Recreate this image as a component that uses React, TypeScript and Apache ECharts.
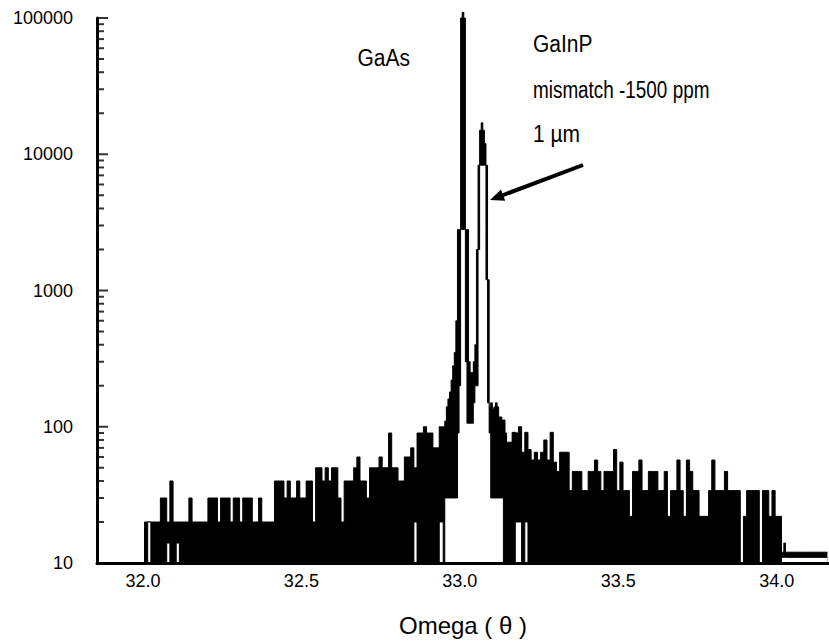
import React, { useEffect, useRef } from 'react';
import * as echarts from 'echarts';

// ---- data ----
// left wing, 32.00 - 32.94 (step 0.01)
const omegaLeft = [
  32.00, 32.01, 32.02, 32.03, 32.04, 32.05, 32.06, 32.07, 32.08, 32.09,
  32.10, 32.11, 32.12, 32.13, 32.14, 32.15, 32.16, 32.17, 32.18, 32.19,
  32.20, 32.21, 32.22, 32.23, 32.24, 32.25, 32.26, 32.27, 32.28, 32.29,
  32.30, 32.31, 32.32, 32.33, 32.34, 32.35, 32.36, 32.37, 32.38, 32.39,
  32.40, 32.41, 32.42, 32.43, 32.44, 32.45, 32.46, 32.47, 32.48, 32.49,
  32.50, 32.51, 32.52, 32.53, 32.54, 32.55, 32.56, 32.57, 32.58, 32.59,
  32.60, 32.61, 32.62, 32.63, 32.64, 32.65, 32.66, 32.67, 32.68, 32.69,
  32.70, 32.71, 32.72, 32.73, 32.74, 32.75, 32.76, 32.77, 32.78, 32.79,
  32.80, 32.81, 32.82, 32.83, 32.84, 32.85, 32.86, 32.87, 32.88, 32.89,
  32.90, 32.91, 32.92, 32.93, 32.94,
];
const upperLeft = [
  10, 20, 20, 20, 20, 20, 30, 30, 20, 40,
  20, 20, 20, 20, 20, 30, 20, 20, 20, 20,
  20, 30, 30, 30, 20, 30, 30, 30, 20, 30,
  30, 20, 30, 30, 30, 20, 20, 30, 20, 20,
  20, 20, 40, 40, 40, 30, 40, 30, 30, 40,
  30, 30, 40, 40, 20, 50, 50, 40, 50, 40,
  50, 50, 30, 20, 40, 40, 40, 50, 60, 40,
  40, 30, 50, 50, 50, 60, 50, 50, 90, 50,
  50, 40, 40, 60, 60, 70, 50, 90, 90, 100,
  90, 90, 70, 70, 100,
];
const lowerLeft = [
  10, 10, 20, 10, 10, 10, 10, 10, 14, 10,
  10, 14, 10, 10, 10, 10, 10, 10, 10, 10,
  10, 10, 10, 10, 10, 10, 10, 10, 10, 10,
  10, 10, 10, 10, 10, 10, 10, 10, 10, 10,
  10, 10, 10, 10, 10, 10, 10, 10, 10, 10,
  10, 10, 10, 10, 10, 10, 10, 10, 10, 10,
  10, 10, 10, 10, 10, 10, 10, 10, 10, 10,
  10, 10, 10, 10, 10, 10, 10, 10, 10, 10,
  10, 10, 10, 10, 10, 10, 20, 10, 10, 10,
  10, 10, 10, 10, 20,
];

// GaAs / GaInP peak region, 32.945 - 33.15 (step 0.005)
const omegaPeak = [
  32.945, 32.95, 32.955, 32.96, 32.965, 32.97, 32.975, 32.98, 32.985, 32.99,
  32.995, 33.0, 33.005, 33.01, 33.015, 33.02, 33.025, 33.03, 33.035, 33.04,
  33.045, 33.05, 33.055, 33.06, 33.065, 33.07, 33.075, 33.08, 33.085, 33.09,
  33.095, 33.1, 33.105, 33.11, 33.115, 33.12, 33.125, 33.13, 33.135, 33.14,
  33.145, 33.15,
];
const upperPeak = [
  100, 100, 110, 140, 160, 180, 220, 280, 350, 600,
  2800, 2800, 100000, 110000, 100000, 2800, 2800, 300, 250, 250,
  300, 400, 2000, 8300, 15000, 17000, 15000, 12000, 8300, 1200,
  140, 150, 135, 140, 150, 140, 118, 118, 112, 112,
  90, 77,
];
const lowerPeak = [
  20, 10, 30, 30, 30, 30, 30, 30, 30, 30,
  90, 200, 2800, 2800, 2800, 300, 106, 106, 106, 106,
  150, 200, 200, 2000, 8300, 8300, 8300, 8300, 1200, 150,
  90, 30, 30, 30, 30, 30, 30, 30, 30, 10,
  10, 10,
];

// right wing, 33.16 - 34.00 (step 0.01) and the flat tail
const omegaRight = [
  33.16, 33.17, 33.18, 33.19, 33.20, 33.21, 33.22, 33.23, 33.24, 33.25,
  33.26, 33.27, 33.28, 33.29, 33.30, 33.31, 33.32, 33.33, 33.34, 33.35,
  33.36, 33.37, 33.38, 33.39, 33.40, 33.41, 33.42, 33.43, 33.44, 33.45,
  33.46, 33.47, 33.48, 33.49, 33.50, 33.51, 33.52, 33.53, 33.54, 33.55,
  33.56, 33.57, 33.58, 33.59, 33.60, 33.61, 33.62, 33.63, 33.64, 33.65,
  33.66, 33.67, 33.68, 33.69, 33.70, 33.71, 33.72, 33.73, 33.74, 33.75,
  33.76, 33.77, 33.78, 33.79, 33.80, 33.81, 33.82, 33.83, 33.84, 33.85,
  33.86, 33.87, 33.88, 33.89, 33.90, 33.91, 33.92, 33.93, 33.94, 33.95,
  33.96, 33.97, 33.98, 33.99, 34.00,
  34.01, 34.02, 34.025, 34.03, 34.16,
];
const upperRight = [
  77, 91, 90, 100, 65, 91, 68, 57, 65, 57,
  65, 80, 57, 91, 55, 47, 65, 65, 65, 34,
  47, 47, 47, 34, 34, 47, 47, 57, 47, 34,
  47, 47, 47, 68, 34, 55, 34, 34, 22, 47,
  47, 57, 34, 34, 47, 47, 47, 34, 34, 47,
  22, 34, 34, 57, 34, 22, 57, 47, 34, 34,
  22, 22, 22, 34, 57, 34, 34, 34, 47, 34,
  34, 34, 34, 10, 22, 34, 34, 34, 34, 10,
  34, 34, 22, 34, 22,
  22, 12, 14, 12, 12,
];
const lowerRight = [
  10, 10, 20, 20, 10, 20, 10, 10, 10, 10,
  10, 10, 10, 10, 10, 10, 10, 10, 10, 10,
  10, 10, 10, 10, 10, 10, 10, 10, 10, 10,
  10, 10, 10, 10, 10, 10, 10, 10, 10, 10,
  10, 10, 10, 10, 10, 10, 10, 10, 10, 10,
  10, 10, 10, 10, 10, 10, 10, 10, 10, 10,
  10, 10, 10, 10, 10, 10, 10, 10, 10, 10,
  10, 10, 10, 10, 10, 10, 10, 10, 10, 10,
  10, 10, 10, 10, 10,
  10, 11, 11, 11, 11,
];

const xTickLabels = [32.0, 32.5, 33.0, 33.5, 34.0];
const yMajorTicks = [100, 1000, 10000, 100000];
const yMinorTicks = [
  20, 30, 40, 50, 60, 70, 80, 90,
  200, 300, 400, 500, 600, 700, 800, 900,
  2000, 3000, 4000, 5000, 6000, 7000, 8000, 9000,
  20000, 30000, 40000, 50000, 60000, 70000, 80000, 90000,
];

const X_MIN = 31.855;
const X_MAX = 34.165;
const FONT = '"Liberation Sans", Arial, Helvetica, sans-serif';

export default function App() {
  const ref = useRef<HTMLDivElement>(null);

  useEffect(() => {
    if (!ref.current) return;
    const chart = echarts.init(ref.current, null, { renderer: 'svg' });

    const omega = [...omegaLeft, ...omegaPeak, ...omegaRight];
    const upper = [...upperLeft, ...upperPeak, ...upperRight];
    const lower = [...lowerLeft, ...lowerPeak, ...lowerRight];

    const annot = (text: string, x: number, y: number, align: string, scaleX = 1) => ({
      type: 'text',
      x,
      y,
      scaleX,
      scaleY: 1.1,
      style: {
        text,
        fontSize: 21,
        fontFamily: FONT,
        fill: '#000',
        align,
        verticalAlign: 'middle',
      },
    });

    chart.setOption({
      animation: false,
      backgroundColor: '#ffffff',
      textStyle: { fontFamily: FONT, color: '#000' },
      grid: {
        left: 97,
        right: 0,
        top: 18,
        bottom: 78,
        containLabel: false,
        outerBoundsMode: 'none',
      },
      xAxis: {
        type: 'value',
        min: X_MIN,
        max: X_MAX,
        z: 10,
        axisLine: { show: true, onZero: false, lineStyle: { color: '#000', width: 3 } },
        axisTick: { show: false },
        splitLine: { show: false },
        axisLabel: {
          customValues: xTickLabels,
          formatter: (v: number) => v.toFixed(1),
          color: '#000',
          fontSize: 18,
          fontFamily: FONT,
          margin: 9,
        },
        name: 'Omega ( θ )',
        nameLocation: 'middle',
        nameGap: 50,
        nameTextStyle: { fontSize: 24, color: '#000', fontFamily: FONT },
      },
      yAxis: {
        type: 'log',
        logBase: 10,
        min: 10,
        max: 100000,
        z: 10,
        axisLine: { show: true, lineStyle: { color: '#000', width: 3 } },
        axisTick: { show: false },
        axisLabel: {
          formatter: (v: number) => String(Math.round(v)),
          color: '#000',
          fontSize: 18,
          fontFamily: FONT,
          margin: 24,
        },
        splitLine: { show: false },
      },
      series: [
        {
          type: 'line',
          name: 'counts (upper)',
          data: omega.map((x, i) => [x, upper[i]]),
          step: 'middle',
          symbol: 'none',
          clip: false,
          z: 2,
          lineStyle: { color: '#000', width: 1 },
          areaStyle: { color: '#000', opacity: 1, origin: 'start' },
        },
        {
          type: 'line',
          name: 'counts (lower)',
          data: omega.map((x, i) => [x, lower[i]]),
          step: 'middle',
          symbol: 'none',
          clip: false,
          z: 3,
          lineStyle: { color: '#000', width: 1 },
          areaStyle: { color: '#fff', opacity: 1, origin: 'start' },
        },
        {
          type: 'scatter',
          name: 'major ticks',
          silent: true,
          data: yMajorTicks.map((v) => [X_MIN, v]),
          symbol: 'rect',
          symbolSize: [11, 2],
          symbolOffset: [5.5, 0],
          itemStyle: { color: '#000' },
          clip: false,
          z: 11,
        },
        {
          type: 'scatter',
          name: 'minor ticks',
          silent: true,
          data: yMinorTicks.map((v) => [X_MIN, v]),
          symbol: 'rect',
          symbolSize: [7, 2],
          symbolOffset: [3.5, 0],
          itemStyle: { color: '#000' },
          clip: false,
          z: 11,
        },
      ],
      graphic: [
        annot('GaAs', 410, 58, 'right'),
        annot('GaInP', 533, 44, 'left'),
        annot('mismatch -1500 ppm', 533, 90, 'left', 0.9),
        annot('1 µm', 533, 134, 'left'),
        {
          type: 'line',
          shape: { x1: 583, y1: 165, x2: 502, y2: 195.5 },
          style: { stroke: '#000', lineWidth: 4 },
        },
        {
          type: 'polygon',
          shape: { points: [[490, 200], [505.2, 200.7], [501.0, 189.5]] },
          style: { fill: '#000' },
        },
      ],
    });

    return () => chart.dispose();
  }, []);

  return (
    <div
      ref={ref}
      style={{ position: 'fixed', left: 0, top: 0, width: 829, height: 641, background: '#fff' }}
    />
  );
}
